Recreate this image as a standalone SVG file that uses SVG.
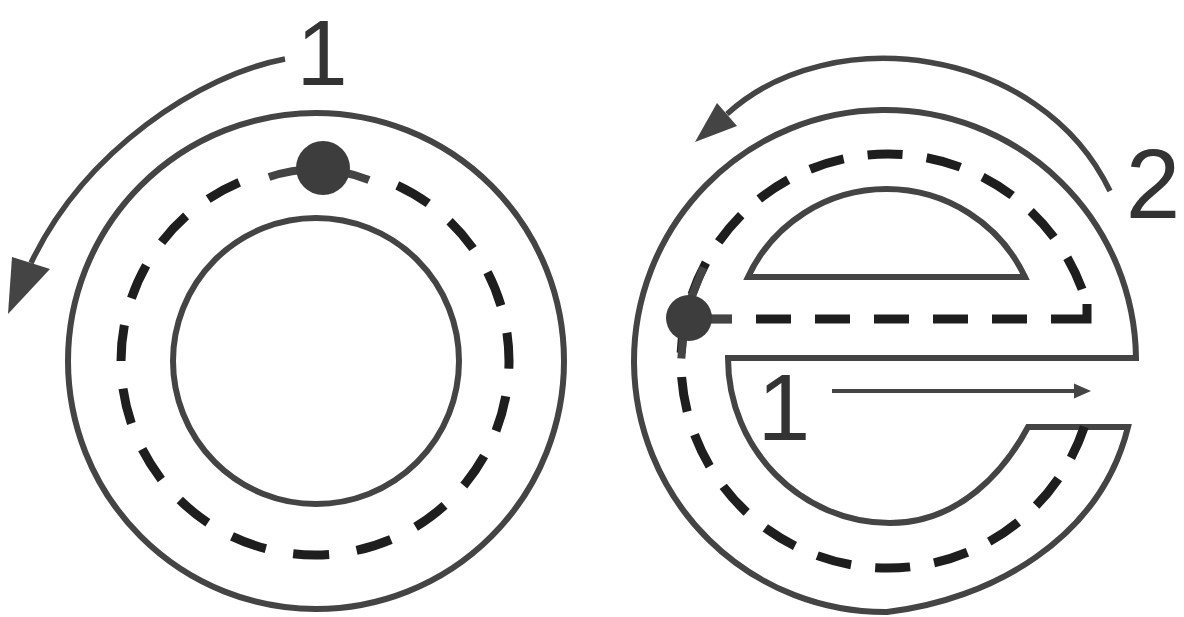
<svg xmlns="http://www.w3.org/2000/svg" width="1184" height="617" viewBox="0 0 1184 617">
<style>
.outline{fill:none;stroke:#444;stroke-width:6}
.dash{fill:none;stroke:#1e1e1e;stroke-width:9}
.dot{fill:#3d3d3d}
.tick{fill:none;stroke:#444;stroke-width:8}
.arrow{fill:none;stroke:#444;stroke-width:5.5}
.thin{fill:none;stroke:#444;stroke-width:4}
.head{fill:#444}
.lbl{font-family:"Liberation Sans",Arial,sans-serif;fill:#333;text-anchor:middle}
</style>
<rect width="1184" height="617" fill="#fff"/>
<g id="letter-o">
  <circle cx="316" cy="361" r="248" class="outline"/>
  <circle cx="316" cy="361" r="143" class="outline"/>
  <path class="dash" d="M397.3,185.3 A194,194 0 1 1 239.2,182.4" stroke-dasharray="36 27.76"/>
</g>
<g id="dot-o">
  <path class="tick" d="M269,177 Q319,160 369,180"/>
  <circle class="dot" cx="323" cy="168" r="27"/>
</g>
<g id="letter-e">
  <path class="outline" stroke-linejoin="miter" d="M1128,427 C1100,540 990,600 887,612 A251,251 0 1 1 1136,358 H728 C728,449 801,523 890,523 C960,523 1005,470 1028,427 Z"/>
  <path class="outline" stroke-linejoin="miter" d="M748,277 A153,153 0 0 1 1025,277 Z"/>
  <path class="dash" d="M1082.1,289.2 A207,207 0 1 0 1084.3,426.7" stroke-dasharray="35 24.25"/>
  <path class="dash" d="M697,319 H1040" stroke-dasharray="35 24"/>
  <path class="dash" stroke-linejoin="miter" d="M1051,319 H1087 V304"/>
</g>
<g id="dot-e">
  <line class="tick" x1="703.4" y1="267.4" x2="690.4" y2="299.4" stroke-width="10"/>
  <line class="tick" x1="684.3" y1="324" x2="681.3" y2="358.5" stroke-width="10"/>
  <line class="tick" x1="697" y1="319" x2="732" y2="319" stroke-width="10"/>
  <circle class="dot" cx="689" cy="318" r="23"/>
</g>
<g id="connectors">
  <path class="arrow" d="M285,59 C200,75 85,150 31,263"/>
  <polygon class="head" points="8,314 12,257 50,269"/>
  <path class="arrow" d="M1110,191 C1040,45 830,20 727,114"/>
  <polygon class="head" points="695,142 717,103 737,126"/>
  <line class="thin" x1="832" y1="391" x2="1078" y2="391"/>
  <polygon class="head" points="1091,391 1074,383.5 1074,398.5"/>
</g>
<g id="labels">
  <text class="lbl" x="322" y="85" font-size="92">1</text>
  <text class="lbl" x="1153" y="218" font-size="98">2</text>
  <text class="lbl" x="784" y="440" font-size="95">1</text>
</g>
</svg>
